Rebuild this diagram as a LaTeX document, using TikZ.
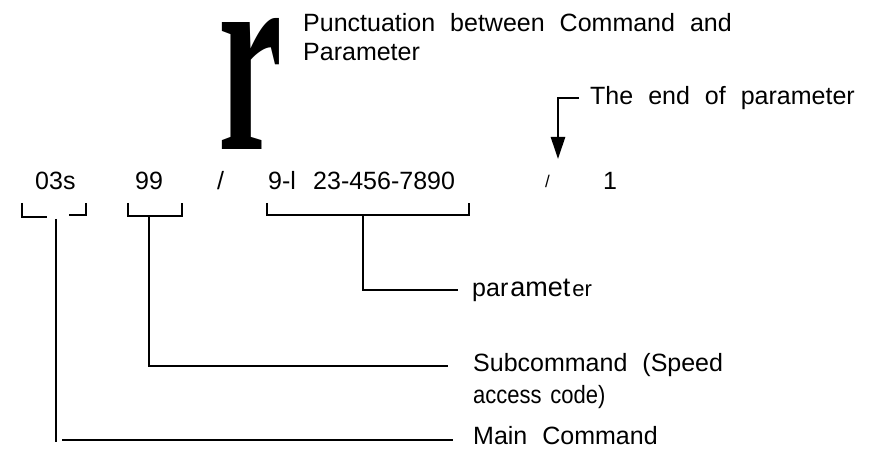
\documentclass[tikz,border=0pt]{standalone}
\usepackage{fontspec}
\setmainfont{Liberation Sans}
\newfontfamily\rserif{Liberation Serif}
\usetikzlibrary{arrows.meta}
\newcommand\widespace{\spaceskip=0.6em\relax}
\tikzset{
  lbl/.style={inner sep=0pt, anchor=base west, font=\fontsize{25}{29}\selectfont\widespace},
  big/.style={inner sep=0pt, anchor=south west},
  brk/.style={line width=2.6pt},
  lead/.style={line width=2.4pt},
  endarrow/.style={line width=2.6pt, -{Triangle[length=22pt,width=14pt]}}
}
\begin{document}
\begin{tikzpicture}[x=1pt,y=-1pt]
\useasboundingbox (0,0) rectangle (871,449);
% big r
\node[big] (r) at (218,150) {\resizebox{64pt}{131pt}{\rserif\bfseries r}};
% top labels
\node[lbl] (punct) at (303,32) {Punctuation between Command and};
\node[lbl] (punct2) at (303,61) {Parameter};
\node[lbl] (endp) at (590,105) {The end of parameter};
% row
\node[lbl] (c03) at (35,190) {03s};
\node[lbl] (c99) at (135,190) {99};
\node[lbl] (sl1) at (217,190) {/};
\node[lbl] (c91) at (268,190) {9-l};
\node[lbl] (num) at (313,190) {23-456-7890};
\node[lbl, font=\fontsize{17}{20}\selectfont] (sl2) at (545,188) {/};
\node[lbl] (one) at (603,190) {1};
% bottom labels
\node[lbl] (parl) at (472,297) {par\hspace{2pt}{\fontsize{27}{30}\selectfont amet}\hspace{2pt}{\fontsize{22}{26}\selectfont er}};
\node[lbl] (subl) at (473,371) {Subcommand (Speed};
\node[lbl] (subl2) at (473,403) {\scalebox{0.88}[1]{access\hspace{10pt}code)}};
\node[lbl] (mainl) at (473,444) {Main Command};
% coordinates
\coordinate (a1) at (22,203); \coordinate (a2) at (22,217); \coordinate (a3) at (47,217);
\coordinate (a4) at (69,215); \coordinate (a5) at (86,215); \coordinate (a6) at (86,203);
\coordinate (as) at (56,219); \coordinate (ae) at (56,442);
\coordinate (m1) at (62,440); \coordinate (m2) at (453,440);
\coordinate (b1) at (128,203); \coordinate (b2) at (128,216); \coordinate (b3) at (182,216); \coordinate (b4) at (182,203);
\coordinate (bs) at (149,216); \coordinate (bc) at (149,366); \coordinate (be) at (448,366);
\coordinate (p1) at (267,203); \coordinate (p2) at (267,215); \coordinate (p3) at (469,215); \coordinate (p4) at (469,203);
\coordinate (ps) at (363,215); \coordinate (pc) at (363,290); \coordinate (pe) at (458,290);
\coordinate (e1) at (579,98); \coordinate (e2) at (558,98); \coordinate (e3) at (558,159);
% brackets
\draw[brk] (a1) -- (a2) -- (a3);
\draw[brk] (a4) -- (a5) -- (a6);
\draw[brk] (b1) -- (b2) -- (b3) -- (b4);
\draw[brk] (p1) -- (p2) -- (p3) -- (p4);
% leaders
\draw[lead] (as) -- (ae);
\draw[lead] (m1) -- (m2);
\draw[lead] (bs) -- (bc) -- (be);
\draw[lead] (ps) -- (pc) -- (pe);
% end arrow
\draw[endarrow] (e1) -- (e2) -- (e3);
\end{tikzpicture}
\end{document}
